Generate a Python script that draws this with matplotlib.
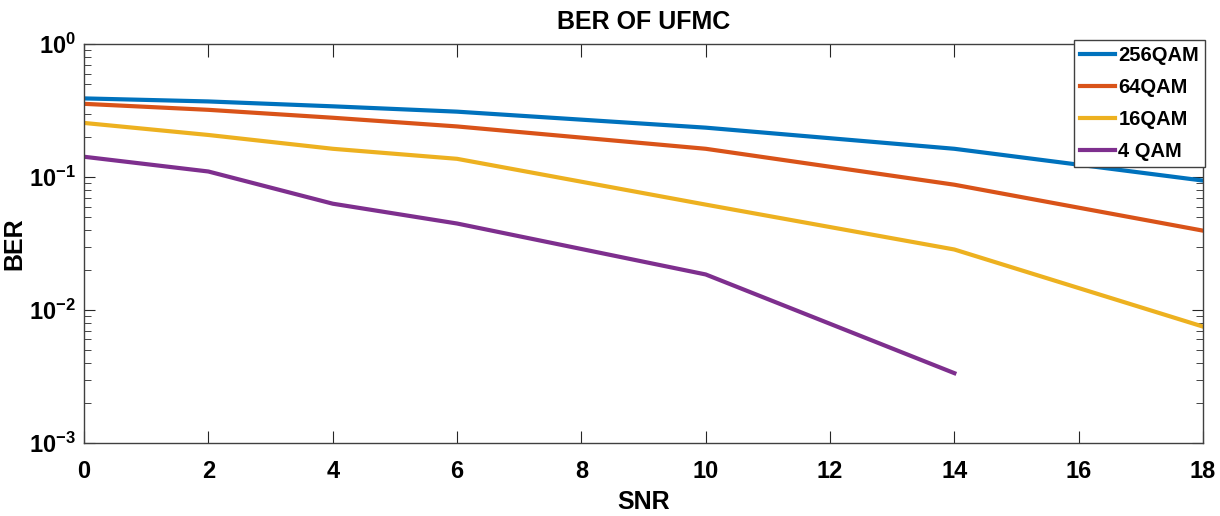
import matplotlib.pyplot as plt
from matplotlib.ticker import LogLocator, NullFormatter
import numpy as np

plt.rcParams['font.family'] = ['Liberation Sans', 'DejaVu Sans']
plt.rcParams['font.weight'] = 'bold'
plt.rcParams['mathtext.fontset'] = 'custom'
plt.rcParams['mathtext.rm'] = 'Liberation Sans:bold'
plt.rcParams['mathtext.it'] = 'Liberation Sans:bold'
plt.rcParams['mathtext.bf'] = 'Liberation Sans:bold'
plt.rcParams['mathtext.default'] = 'rm'

snr = [0, 2, 4, 6, 10, 14, 18]
ber_256 = [0.39, 0.37, 0.34, 0.31, 0.235, 0.163, 0.094]
ber_64 = [0.355, 0.32, 0.279, 0.24, 0.163, 0.0875, 0.0395]
ber_16 = [0.255, 0.207, 0.163, 0.137, 0.062, 0.0285, 0.0075]
snr_4 = [0, 2, 4, 6, 10, 14]
ber_4 = [0.142, 0.11, 0.063, 0.0447, 0.0185, 0.00335]

labels = ['256QAM', '64QAM', '16QAM', '4 QAM']
colors = ['#0072BD', '#D95319', '#EDB120', '#7E2F8E']
ytick_vals = [1e-3, 1e-2, 1e-1, 1e0]
ytick_text = ['$10^{-3}$', '$10^{-2}$', '$10^{-1}$', '$10^{0}$']

fig = plt.figure(figsize=(12.2, 5.16), dpi=100)
ax = fig.add_axes([0.0689, 0.1415, 0.9172, 0.7732])

ax.semilogy(snr, ber_256, color=colors[0], lw=3, label=labels[0])
ax.semilogy(snr, ber_64, color=colors[1], lw=3, label=labels[1])
ax.semilogy(snr, ber_16, color=colors[2], lw=3, label=labels[2])
ax.semilogy(snr_4, ber_4, color=colors[3], lw=3, label=labels[3])

ax.set_xlim(0, 18)
ax.set_ylim(1e-3, 1)
ax.set_xticks(np.arange(0, 19, 2))
ax.yaxis.set_minor_locator(LogLocator(base=10, subs=np.arange(2, 10), numticks=10))
ax.yaxis.set_minor_formatter(NullFormatter())
ax.set_yticks(ytick_vals)
ax.set_yticklabels(ytick_text)

ax.tick_params(which='both', direction='in', top=True, right=True,
               labelsize=17, color='#262626')
ax.tick_params(axis='x', which='major', length=9, pad=12)
ax.tick_params(axis='y', which='major', length=8, pad=6)
ax.tick_params(which='minor', length=5)
for s in ax.spines.values():
    s.set_color('#404040')
    s.set_linewidth(1.0)

ax.set_title('BER OF UFMC', fontsize=18, fontweight='bold', pad=11)
ax.set_xlabel('SNR', fontsize=18, fontweight='bold', labelpad=5)
ax.set_ylabel('BER', fontsize=18, fontweight='bold', labelpad=2)

leg = ax.legend(loc='upper right', bbox_to_anchor=(1.0018, 1.01), fontsize=14.5,
                handlelength=1.75, handletextpad=0.15, borderpad=0.3,
                labelspacing=0.65, fancybox=False, framealpha=1,
                borderaxespad=0.0)
leg.get_frame().set_edgecolor('#404040')
leg.get_frame().set_linewidth(1.0)
for t in leg.get_texts():
    t.set_fontweight('bold')

fig.savefig('out.png', dpi=100)
